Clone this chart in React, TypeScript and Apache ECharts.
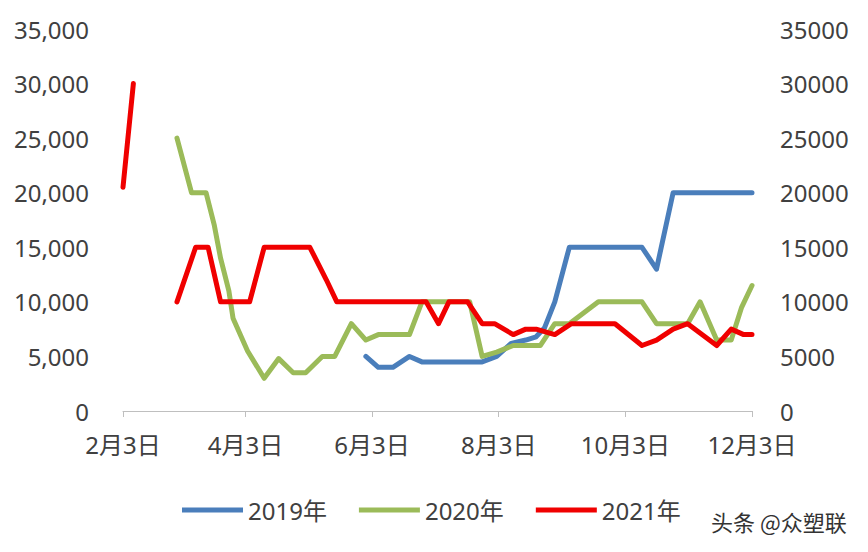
import React, { useEffect, useRef } from "react";
import * as echarts from "echarts";

// X axis tick dates and labels (days counted from 2月3日)
const tickDates = ["02-03", "04-03", "06-03", "08-03", "10-03", "12-03"];
const tickLabels = ["2月3日", "4月3日", "6月3日", "8月3日", "10月3日", "12月3日"];

const seriesNames = ["2019年", "2020年", "2021年"];
const seriesColors = ["#4a7ebb", "#9bbb59", "#f00000"];

const dates2019 = ["05-31", "06-06", "06-13", "06-21", "06-27", "07-26", "08-02", "08-09", "08-16", "08-21", "08-25", "08-30", "09-06", "10-11", "10-18", "10-26", "12-03"];
const values2019 = [5000, 4000, 4000, 5000, 4500, 4500, 5000, 6200, 6500, 6800, 7600, 10000, 15000, 15000, 13000, 20000, 20000];

const dates2020 = ["03-01", "03-08", "03-15", "03-19", "03-22", "03-26", "03-28", "04-04", "04-12", "04-19", "04-26", "05-02", "05-10", "05-16", "05-24", "05-31", "06-06", "06-21", "06-27", "07-20", "07-26", "08-02", "08-10", "08-23", "08-30", "09-06", "09-20", "10-11", "10-18", "11-02", "11-08", "11-16", "11-23", "11-28", "12-03"];
const values2020 = [25000, 20000, 20000, 17000, 14000, 11000, 8500, 5500, 3000, 4800, 3500, 3500, 5000, 5000, 8000, 6500, 7000, 7000, 10000, 10000, 5000, 5400, 6000, 6000, 8000, 8000, 10000, 10000, 8000, 8000, 10000, 6500, 6500, 9500, 11500];

const dates2021 = ["02-03", "02-08", "02-20", "03-01", "03-10", "03-16", "03-22", "04-05", "04-12", "05-04", "05-12", "05-17", "06-29", "07-05", "07-10", "07-19", "07-26", "08-01", "08-10", "08-16", "08-21", "08-30", "09-07", "09-28", "10-11", "10-18", "10-26", "11-02", "11-16", "11-23", "11-29", "12-03"];
const values2021: (number | null)[] = [20500, 30000, null, 10000, 15000, 15000, 10000, 10000, 15000, 15000, 12000, 10000, 10000, 8000, 10000, 10000, 8000, 8000, 7000, 7500, 7500, 7000, 8000, 8000, 6000, 6500, 7500, 8000, 6000, 7500, 7000, 7000];

const yMin = 0;
const yMax = 35000;
const yInterval = 5000;

function dayOffset(md: string): number {
  const [m, d] = md.split("-").map(Number);
  return Math.round((Date.UTC(2021, m - 1, d) - Date.UTC(2021, 1, 3)) / 86400000);
}

function toPairs(dates: string[], values: (number | null)[]) {
  return dates.map((d, i) => [dayOffset(d), values[i] === null ? "-" : values[i]]);
}

const FONT = "'Noto Sans', 'Noto Sans CJK SC', sans-serif";

export default function App() {
  const ref = useRef<HTMLDivElement>(null);
  useEffect(() => {
    if (!ref.current) return;
    const chart = echarts.init(ref.current, null, { renderer: "svg" });
    const tickValues = tickDates.map(dayOffset);
    const labelFor = (v: number) => {
      const idx = tickValues.indexOf(Math.round(v));
      return idx >= 0 ? tickLabels[idx] : "";
    };
    const datasets = [
      toPairs(dates2019, values2019),
      toPairs(dates2020, values2020),
      toPairs(dates2021, values2021),
    ];
    chart.setOption({
      animation: false,
      backgroundColor: "#ffffff",
      grid: { left: 123, right: 116, top: 29, bottom: 141, containLabel: false },
      legend: {
        data: seriesNames,
        left: 182,
        top: 498,
        padding: 0,
        icon: "rect",
        itemWidth: 61,
        itemHeight: 5,
        itemGap: 32,
        textStyle: { fontSize: 24, color: "#404040", fontFamily: FONT },
      },
      xAxis: {
        type: "value",
        min: tickValues[0],
        max: tickValues[tickValues.length - 1],
        splitLine: { show: false },
        axisLine: { show: true, lineStyle: { color: "#bfbfbf", width: 1 } },
        axisTick: { show: true, customValues: tickValues, length: 6, lineStyle: { color: "#bfbfbf" } },
        axisLabel: {
          customValues: tickValues,
          formatter: (v: number) => labelFor(v),
          fontSize: 24,
          color: "#404040",
          fontFamily: FONT,
          margin: 21,
        },
      },
      yAxis: [
        {
          type: "value",
          min: yMin,
          max: yMax,
          interval: yInterval,
          position: "left",
          splitLine: { show: false },
          axisLine: { show: false },
          axisTick: { show: false },
          axisLabel: {
            formatter: (v: number) => v.toLocaleString("en-US"),
            fontSize: 24,
            color: "#404040",
            fontFamily: FONT,
            margin: 34,
          },
        },
        {
          type: "value",
          min: yMin,
          max: yMax,
          interval: yInterval,
          position: "right",
          splitLine: { show: false },
          axisLine: { show: false },
          axisTick: { show: false },
          axisLabel: {
            formatter: (v: number) => String(v),
            fontSize: 24,
            color: "#404040",
            fontFamily: FONT,
            margin: 28,
          },
        },
      ],
      series: datasets.map((data, i) => ({
        name: seriesNames[i],
        type: "line",
        data,
        yAxisIndex: 0,
        showSymbol: false,
        symbol: "none",
        connectNulls: false,
        color: seriesColors[i],
        lineStyle: { width: 5, color: seriesColors[i], cap: "round", join: "round" },
        z: 2 + i,
      })),
      graphic: [
        {
          type: "text",
          left: 711,
          top: 510,
          style: {
            text: "头条 @众塑联",
            fontSize: 22,
            fill: "#333333",
            fontFamily: "'Noto Sans CJK SC', sans-serif",
          },
        },
      ],
    });
    return () => chart.dispose();
  }, []);
  return (
    <div
      ref={ref}
      style={{ position: "fixed", left: 0, top: 0, width: 868, height: 552, background: "#fff" }}
    />
  );
}
